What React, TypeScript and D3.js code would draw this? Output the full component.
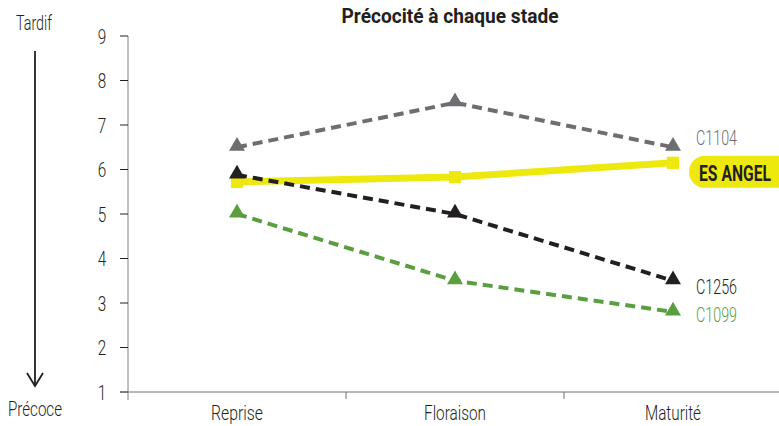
import React from "react";
import * as d3 from "d3";

const categories = ["Reprise", "Floraison", "Maturité"];
const yTicks = [1, 2, 3, 4, 5, 6, 7, 8, 9];
const c1104 = [6.5, 7.5, 6.5];
const esAngel = [5.72, 5.83, 6.15];
const c1256 = [5.88, 5.0, 3.5];
const c1099 = [5.0, 3.5, 2.8];

const W = 779, H = 426;
const FONT = "Roboto, 'DejaVu Sans Condensed', sans-serif";

const catWidths: Record<string, number> = { Reprise: 52, Floraison: 62, "Maturité": 56 };

export default function App() {
  const x = d3.scaleBand().domain(categories).range([128, 782]);
  const y = d3.scaleLinear().domain([1, 9]).range([392, 36]);
  const cx = (c: string) => (x(c) as number) + x.bandwidth() / 2;
  const line = d3.line<number>().x((_, i) => cx(categories[i])).y((v) => y(v));
  const tri = d3.symbol().type(d3.symbolTriangle).size(110)();
  const sq = d3.symbol().type(d3.symbolSquare).size(150)();

  const dashed = [
    { vals: c1104, color: "#6d6e71", label: "C1104", dy: -2 },
    { vals: c1256, color: "#231f20", label: "C1256", dy: 13 },
    { vals: c1099, color: "#5a9e3f", label: "C1099", dy: 10 },
  ];
  const lastX = cx(categories[2]);
  const by = y(esAngel[2]);

  return (
    <svg width={W} height={H} style={{ position: "absolute", left: 0, top: 0, fontFamily: FONT }}>
      <rect width={W} height={H} fill="#fff" />
      <text x={450} y={23} textAnchor="middle" fontSize={21} fontWeight={700} fill="#231f20" textLength={217} lengthAdjust="spacingAndGlyphs">Précocité à chaque stade</text>
      <text x={34} y={30} textAnchor="middle" fontSize={21} fontWeight={300} fill="#231f20" textLength={36} lengthAdjust="spacingAndGlyphs">Tardif</text>
      <text x={35} y={416} textAnchor="middle" fontSize={21} fontWeight={300} fill="#231f20" textLength={54} lengthAdjust="spacingAndGlyphs">Précoce</text>
      <line x1={35} x2={35} y1={51} y2={386} stroke="#231f20" strokeWidth={1.8} />
      <path d="M27,373 L35,386 L43,373" fill="none" stroke="#231f20" strokeWidth={1.8} />

      {/* y axis */}
      <line x1={128} x2={128} y1={36} y2={400} stroke="#808080" strokeWidth={1} />
      {yTicks.map((t) => (
        <g key={t}>
          <line x1={120} x2={128} y1={y(t)} y2={y(t)} stroke="#231f20" strokeWidth={1} />
          <text x={102} y={y(t) + 7.5} textAnchor="middle" fontSize={21} fontWeight={300} fill="#231f20" textLength={8.5} lengthAdjust="spacingAndGlyphs">{t}</text>
        </g>
      ))}
      {/* x axis */}
      <line x1={120} x2={779} y1={392} y2={392} stroke="#707070" strokeWidth={1} />
      {categories.map((c, i) => (
        <g key={c}>
          {i > 0 && <line x1={x(c) as number} x2={x(c) as number} y1={392} y2={399} stroke="#707070" />}
          <text x={cx(c)} y={420} textAnchor="middle" fontSize={20} fontWeight={300} fill="#231f20" textLength={catWidths[c]} lengthAdjust="spacingAndGlyphs">{c}</text>
        </g>
      ))}

      {/* yellow line */}
      <path d={line(esAngel) as string} fill="none" stroke="#ede90f" strokeWidth={7} />
      {esAngel.map((v, i) => (
        <path key={i} d={sq} transform={`translate(${cx(categories[i])},${y(v)})`} fill="#ede90f" />
      ))}

      {dashed.map((s) => (
        <g key={s.label}>
          <path d={line(s.vals) as string} fill="none" stroke={s.color} strokeWidth={4} strokeDasharray="10,6" />
          {s.vals.map((v, i) => (
            <path key={i} d={tri} transform={`translate(${cx(categories[i])},${y(v) - 1})`} fill={s.color} />
          ))}
          <text x={lastX + 23} y={y(s.vals[2]) + s.dy} fontSize={21} fontWeight={300} fill={s.color} textLength={41} lengthAdjust="spacingAndGlyphs">{s.label}</text>
        </g>
      ))}

      {/* ES ANGEL badge */}
      <path d={`M705,${by - 7} H779 V${by + 25} H705 A16,16 0 0 1 705,${by - 7} Z`} fill="#ede90f" />
      <text transform={`translate(699,${by + 18}) scale(1,1.25)`} x={0} y={0} fontSize={17} fontWeight={700} fill="#231f20" textLength={72} lengthAdjust="spacingAndGlyphs">ES ANGEL</text>
    </svg>
  );
}
